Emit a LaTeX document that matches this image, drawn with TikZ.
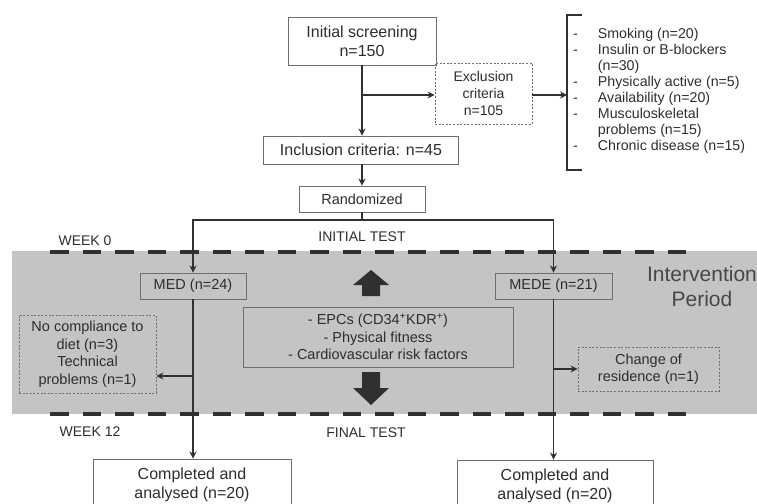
\documentclass[tikz,border=0pt]{standalone}
\usepackage{fontspec}
\setmainfont{Liberation Sans}
\usetikzlibrary{arrows.meta}
\definecolor{ink}{RGB}{48,48,48}
\definecolor{txt}{RGB}{45,45,45}
\definecolor{frame}{RGB}{110,110,110}
\definecolor{band}{RGB}{196,196,196}
\newcommand\fsbig{\fontsize{16}{19}\selectfont}
\newcommand\fsmid{\fontsize{14.5}{17.5}\selectfont}
\newcommand\fssmall{\fontsize{14}{17}\selectfont}
\newcommand\fslist{\fontsize{14.2}{16.1}\selectfont}
\newcommand\fshuge{\fontsize{21}{25}\selectfont}
\begin{document}
\begin{tikzpicture}[x=1pt,y=-1pt,
  box/.style={draw=frame, line width=0.9pt, text=txt, align=center, inner sep=0pt},
  dbox/.style={draw=frame, line width=0.8pt, dash pattern=on 2pt off 1.6pt, text=txt, align=center, inner sep=0pt},
  link/.style={draw=ink, line width=1.3pt},
  arr/.style={link, -{Stealth[length=7pt,width=7pt]}},
  label/.style={text=txt, inner sep=0pt},
  bigarrow/.style={fill=ink, draw=none},
  phase/.style={draw=ink, line width=4pt, dash pattern=on 18.5pt off 14pt}]
\useasboundingbox (0,0) rectangle (757,503);

% intervention band with its week boundaries
\fill[band] (12,251) rectangle (757,414);
\draw[phase] (50,252) -- (690,252);
\draw[phase] (50,414) -- (690,414);

% screening stage
\node[box, fill=white, minimum width=148pt, minimum height=48pt, font=\fsbig] (init) at (362,41) {Initial screening\\n=150};
\node[dbox, minimum width=97pt, minimum height=61pt, font=\fssmall] (excl) at (483.5,93.5) {Exclusion\\criteria\\n=105};
\node[box, fill=white, minimum width=195pt, minimum height=28pt, font=\fsbig] (incl) at (361,150) {Inclusion criteria: n=45};
\node[box, fill=white, minimum width=126pt, minimum height=26pt, font=\fsmid] (rand) at (362,199) {Randomized};

% exclusion reasons
\coordinate (brk) at (567,95);
\draw[ink, line width=1.5pt] (582,15) -- (567,15) -- (567,170) -- (582,170);
\node[label, anchor=base west, font=\fslist] (reasons) at (573,38) {%
  \begin{tabular}[t]{@{}l@{\hspace{20pt}}l@{}}
  - & Smoking (n=20)\\
  - & Insulin or B-blockers\\
    & (n=30)\\
  - & Physically active (n=5)\\
  - & Availability (n=20)\\
  - & Musculoskeletal\\
    & problems (n=15)\\
  - & Chronic disease (n=15)
  \end{tabular}};

% study arms
\node[box, minimum width=106pt, minimum height=26pt, font=\fsmid] (med) at (193,286) {MED (n=24)};
\node[box, minimum width=117pt, minimum height=26pt, font=\fsmid] (mede) at (553.5,286) {MEDE (n=21)};
\node[box, minimum width=270pt, minimum height=60pt, font=\fsmid] (epc) at (378,337) {- EPCs (CD34\textsuperscript{+}KDR\textsuperscript{+})\\- Physical fitness\\- Cardiovascular risk factors};
\node[dbox, minimum width=137pt, minimum height=78pt, font=\fsmid] (nocomp) at (87.5,354) {No compliance to\\diet (n=3)\\Technical\\problems (n=1)};
\node[dbox, minimum width=141pt, minimum height=44pt, font=\fsmid] (chg) at (648.5,369) {Change of\\residence (n=1)};
\node[label, align=center, font=\fshuge, text=black!72] (period) at (702,286) {Intervention\\Period};

% measurement arrows
\fill[bigarrow] (371,270) -- (389,285) -- (380,285) -- (380,296) -- (362,296) -- (362,285) -- (353,285) -- cycle;
\fill[bigarrow] (371,405) -- (389,388) -- (380,388) -- (380,372) -- (362,372) -- (362,388) -- (353,388) -- cycle;

% phase labels
\node[label, font=\fssmall] (w0) at (85,241) {WEEK 0};
\node[label, font=\fssmall] (itest) at (362,237) {INITIAL TEST};
\node[label, font=\fssmall] (w12) at (90,432) {WEEK 12};
\node[label, font=\fssmall] (ftest) at (366,433) {FINAL TEST};

% final outcome
\node[box, fill=white, minimum width=198pt, minimum height=52pt, font=\fsbig] (comp1) at (192,485) {Completed and\\analysed (n=20)};
\node[box, fill=white, minimum width=196pt, minimum height=52pt, font=\fsbig] (comp2) at (555,486) {Completed and\\analysed (n=20)};

% connectors
\coordinate (split) at (362,95);
\coordinate (fork) at (362,220);
\draw[arr] (init) -- (init.south |- incl.north);
\draw[arr] (split) -- (excl.west |- split);
\draw[arr] (excl.east |- brk) -- (brk);
\draw[arr] (incl.south -| rand) -- (rand.north);
\draw[link] (rand.south) -- (fork);
\draw[arr] (fork) -| (med.north);
\draw[arr] (fork) -| (mede.north);
\coordinate (medout) at (193,376);
\coordinate (medeout) at (553.5,369);
\draw[arr] (med.south) -- (med.south |- comp1.north);
\draw[arr] (mede.south) -- (mede.south |- comp2.north);
\draw[arr] (medout) -- (nocomp.east |- medout);
\draw[arr] (medeout) -- (chg.west |- medeout);
\end{tikzpicture}
\end{document}
